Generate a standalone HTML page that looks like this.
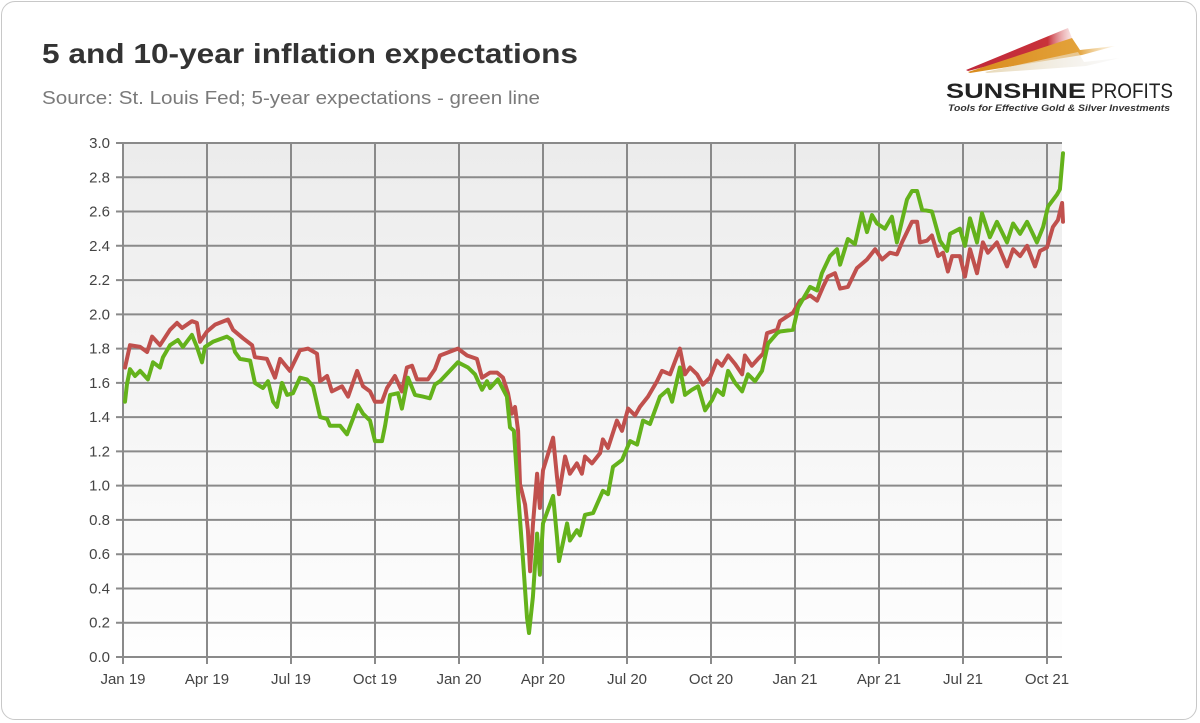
<!DOCTYPE html>
<html><head><meta charset="utf-8"><style>
html,body{margin:0;padding:0;background:#fff;}
body{width:1200px;height:723px;overflow:hidden;position:relative;font-family:"Liberation Sans",sans-serif;}
.card{position:absolute;left:1px;top:1px;width:1196px;height:719px;border:1px solid #c8c8c8;border-radius:14px;box-sizing:border-box;}
</style></head><body>
<div class="card"></div>
<svg width="1200" height="723" style="position:absolute;left:0;top:0">
<defs><linearGradient id="bg" x1="0" y1="0" x2="0" y2="1"><stop offset="0" stop-color="#ececec"/><stop offset="1" stop-color="#fefefe"/></linearGradient>
<linearGradient id="sw1" x1="0" y1="0" x2="1" y2="0"><stop offset="0" stop-color="#c0283a"/><stop offset="0.75" stop-color="#c8323a"/><stop offset="1" stop-color="#f3c9c9" stop-opacity="0.3"/></linearGradient>
<linearGradient id="sw2" x1="0" y1="0" x2="1" y2="0"><stop offset="0" stop-color="#d98b1c"/><stop offset="0.75" stop-color="#e3a23a"/><stop offset="1" stop-color="#f3dcb0" stop-opacity="0.3"/></linearGradient>
<linearGradient id="sw3" x1="0" y1="0" x2="1" y2="0"><stop offset="0" stop-color="#e8d9b8"/><stop offset="1" stop-color="#eee" stop-opacity="0.3"/></linearGradient></defs>
<text x="42" y="63" font-size="28" font-weight="bold" fill="#333" textLength="536" lengthAdjust="spacingAndGlyphs">5 and 10-year inflation expectations</text>
<text x="42" y="104" font-size="18" fill="#7a7a7a" textLength="498" lengthAdjust="spacingAndGlyphs">Source: St. Louis Fed; 5-year expectations - green line</text>
<g>
<polygon points="966,70 1068,28 1072,38 1075,44 968,71" fill="url(#sw1)"/>
<polygon points="968,72 1072,38 1080,50 1115,46 1082,55 970,73" fill="url(#sw2)"/>
<polygon points="985,72 1078,52 1084,62 1120,58 1086,66 987,73" fill="url(#sw3)"/>
<text x="946" y="98" font-size="21" font-weight="bold" fill="#222" textLength="140" lengthAdjust="spacingAndGlyphs">SUNSHINE</text>
<text x="1091" y="98" font-size="21" fill="#222" textLength="82" lengthAdjust="spacingAndGlyphs">PROFITS</text>
<text x="948" y="111" font-size="9" font-weight="bold" font-style="italic" fill="#333" textLength="222" lengthAdjust="spacingAndGlyphs">Tools for Effective Gold &amp; Silver Investments</text>
</g>
<rect x="123" y="143" width="939" height="514" fill="url(#bg)"/>
<g id="grid"></g><g id="axes"></g><g id="series"></g>
</svg>
<script>
const NS='http://www.w3.org/2000/svg';
const yTicks=[0,0.2,0.4,0.6,0.8,1.0,1.2,1.4,1.6,1.8,2.0,2.2,2.4,2.6,2.8,3.0];
const xTickLabels=['Jan 19','Apr 19','Jul 19','Oct 19','Jan 20','Apr 20','Jul 20','Oct 20','Jan 21','Apr 21','Jul 21','Oct 21'];
const xTickMonths=[0,3,6,9,12,15,18,21,24,27,30,33];
const redMonths=[0.07,0.25,0.61,0.86,1.04,1.32,1.68,1.93,2.11,2.46,2.64,2.75,3.00,3.29,3.75,3.93,4.29,4.61,4.71,5.14,5.43,5.61,5.96,6.32,6.61,6.93,7.04,7.29,7.46,7.82,8.04,8.36,8.57,8.82,9.00,9.25,9.43,9.71,9.96,10.14,10.32,10.50,10.89,11.14,11.32,11.96,12.29,12.64,12.82,13.11,13.36,13.57,13.75,13.89,14.00,14.11,14.18,14.36,14.46,14.54,14.64,14.79,14.89,15.00,15.36,15.50,15.57,15.79,15.96,16.21,16.39,16.50,16.75,17.04,17.14,17.32,17.64,17.82,18.04,18.29,18.46,18.75,19.07,19.25,19.54,19.89,20.07,20.25,20.50,20.71,20.96,21.21,21.39,21.61,21.86,22.11,22.21,22.46,22.68,22.86,23.00,23.36,23.46,23.93,24.18,24.54,24.79,25.00,25.18,25.43,25.61,25.89,26.21,26.57,26.86,27.11,27.39,27.64,27.82,28.18,28.36,28.46,28.71,28.89,29.11,29.29,29.46,29.61,29.89,30.07,30.25,30.50,30.71,30.89,31.21,31.57,31.79,32.04,32.29,32.57,32.75,33.00,33.21,33.39,33.54,33.57];
const redValues=[1.69,1.82,1.81,1.78,1.87,1.82,1.91,1.95,1.92,1.96,1.95,1.84,1.90,1.94,1.97,1.91,1.86,1.82,1.75,1.74,1.63,1.74,1.67,1.79,1.80,1.77,1.61,1.64,1.55,1.58,1.52,1.67,1.58,1.55,1.49,1.49,1.57,1.64,1.55,1.69,1.70,1.62,1.62,1.68,1.76,1.80,1.76,1.74,1.63,1.66,1.66,1.63,1.54,1.42,1.46,1.32,1.01,0.89,0.74,0.50,0.77,1.07,0.87,1.09,1.28,1.05,0.95,1.17,1.07,1.13,1.07,1.17,1.13,1.19,1.27,1.22,1.38,1.32,1.45,1.41,1.46,1.52,1.61,1.67,1.65,1.80,1.65,1.69,1.65,1.59,1.63,1.73,1.70,1.76,1.71,1.65,1.76,1.70,1.74,1.77,1.89,1.91,1.96,2.01,2.08,2.11,2.08,2.16,2.22,2.24,2.15,2.16,2.27,2.32,2.38,2.32,2.36,2.35,2.42,2.54,2.54,2.42,2.43,2.46,2.34,2.36,2.25,2.34,2.34,2.22,2.38,2.24,2.42,2.36,2.42,2.28,2.38,2.34,2.40,2.28,2.37,2.39,2.51,2.55,2.65,2.54];
const greenMonths=[0.07,0.14,0.25,0.43,0.61,0.89,1.07,1.32,1.43,1.68,1.96,2.14,2.46,2.64,2.82,2.93,3.21,3.71,3.89,4.00,4.18,4.54,4.71,5.00,5.18,5.36,5.50,5.68,5.86,6.07,6.32,6.57,6.79,7.04,7.29,7.39,7.75,8.00,8.21,8.39,8.57,8.82,9.00,9.25,9.36,9.54,9.82,9.96,10.18,10.43,10.71,10.96,11.14,11.32,11.96,12.32,12.57,12.82,13.00,13.11,13.39,13.71,13.82,13.96,14.11,14.29,14.43,14.50,14.64,14.79,14.89,15.00,15.36,15.50,15.57,15.86,15.96,16.21,16.32,16.50,16.79,17.14,17.32,17.50,17.82,18.11,18.36,18.57,18.82,19.18,19.46,19.61,19.89,20.07,20.32,20.54,20.79,21.04,21.21,21.43,21.61,21.86,22.11,22.32,22.57,22.82,23.04,23.36,23.46,23.93,24.11,24.54,24.79,24.96,25.25,25.50,25.61,25.89,26.14,26.39,26.57,26.75,26.93,27.21,27.46,27.64,28.00,28.18,28.36,28.54,28.89,29.18,29.43,29.54,29.89,30.07,30.25,30.50,30.68,30.96,31.21,31.57,31.79,32.04,32.29,32.64,32.86,33.04,33.36,33.46,33.57];
const greenValues=[1.49,1.59,1.68,1.64,1.67,1.62,1.72,1.69,1.75,1.82,1.85,1.81,1.88,1.81,1.72,1.81,1.84,1.87,1.85,1.78,1.74,1.73,1.60,1.57,1.61,1.49,1.46,1.60,1.53,1.54,1.63,1.62,1.58,1.40,1.39,1.35,1.35,1.30,1.39,1.47,1.42,1.38,1.26,1.26,1.35,1.53,1.54,1.45,1.63,1.53,1.52,1.51,1.59,1.61,1.72,1.69,1.65,1.56,1.61,1.57,1.62,1.52,1.34,1.32,0.95,0.56,0.23,0.14,0.35,0.72,0.48,0.78,0.94,0.70,0.56,0.78,0.68,0.74,0.71,0.83,0.84,0.97,0.95,1.11,1.15,1.26,1.24,1.38,1.36,1.52,1.56,1.49,1.69,1.53,1.56,1.58,1.44,1.50,1.56,1.53,1.67,1.60,1.55,1.65,1.61,1.67,1.83,1.89,1.90,1.91,2.04,2.16,2.14,2.24,2.34,2.38,2.29,2.44,2.41,2.59,2.48,2.58,2.53,2.50,2.57,2.42,2.67,2.72,2.72,2.61,2.60,2.43,2.37,2.47,2.50,2.40,2.56,2.42,2.59,2.45,2.54,2.42,2.53,2.47,2.54,2.42,2.51,2.63,2.70,2.73,2.94];

const X0=123,PXM=28,Y0=657,PXV=171.33;
function xs(m){return X0+m*PXM;}
function ys(v){return Y0-v*PXV;}
const grid=document.getElementById('grid'),axes=document.getElementById('axes'),series=document.getElementById('series');
function mk(tag,attrs,parent){const e=document.createElementNS(NS,tag);for(const k in attrs)e.setAttribute(k,attrs[k]);parent.appendChild(e);return e;}
yTicks.forEach(v=>{
  const y=ys(v);
  const l=mk('line',{x1:116,x2:1062,y1:y,y2:y,stroke:'#8a8a8a','stroke-width':2},grid);
  
  
  const t=mk('text',{x:110,y:y+5,'text-anchor':'end','font-size':15,fill:'#444'},axes);
  t.textContent=v.toFixed(1);
  
  
});
xTickMonths.forEach((m,i)=>{
  const x=xs(m);
  const l=mk('line',{x1:x,x2:x,y1:143,y2:664,stroke:'#8a8a8a','stroke-width':2},grid);
  
  
  const t=mk('text',{x:x,y:684,'text-anchor':'middle','font-size':15,fill:'#444'},axes);
  t.textContent=xTickLabels[i];
  
  
});
function drawLine(ms,vs,color,name){
  const pts=ms.map((m,i)=>xs(m).toFixed(1)+','+ys(vs[i]).toFixed(1)).join(' ');
  const p=mk('polyline',{points:pts,fill:'none',stroke:color,'stroke-width':4,'stroke-linejoin':'round','stroke-linecap':'round'},series);
  
  
}
drawLine(redMonths,redValues,'#c0504d','ten-year-line');
drawLine(greenMonths,greenValues,'#64b21b','five-year-line');
</script>
</body></html>
